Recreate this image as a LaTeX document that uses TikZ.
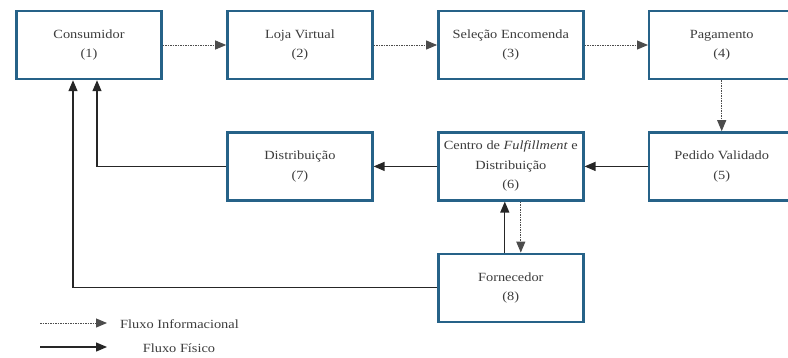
\documentclass[tikz,border=0pt]{standalone}
\usepackage{fontspec}
\setmainfont{Liberation Serif}[FakeStretch=1.15]
\usetikzlibrary{positioning,arrows.meta}
\definecolor{boxblue}{RGB}{38,98,136}
\definecolor{txtgray}{RGB}{60,60,60}
\tikzset{
  etapa/.style={draw=boxblue, line width=2.4pt, fill=white, minimum width=145pt,
    minimum height=68pt, align=center, text=txtgray, inner sep=2pt,
    font=\fontsize{12.5}{19.5}\selectfont},
  info/.style={-{Triangle[length=11pt,width=9pt]}, line width=1pt,
    dash pattern=on 1.5pt off 1pt, draw=black!70},
  fisico/.style={-{Triangle[length=11pt,width=9pt]}, line width=1.3pt, draw=black!85},
  legenda/.style={text=txtgray, inner sep=0pt, font=\fontsize{12.5}{15}\selectfont}
}
\begin{document}
\begin{tikzpicture}[x=1pt,y=1pt,node distance=51pt and 63.5pt]
\useasboundingbox (0,0) rectangle (788,-357);
\clip (0,0) rectangle (788,-357);
\node[etapa] (consumidor) at (89,-45) {Consumidor\\(1)};
\node[etapa] (loja) [right=of consumidor] {Loja Virtual\\(2)};
\node[etapa] (selecao) [right=of loja] {Seleção Encomenda\\(3)};
\node[etapa] (pagamento) [right=of selecao] {Pagamento\\(4)};
\node[etapa] (pedido) [below=of pagamento] {Pedido Validado\\(5)};
\node[etapa] (centro) [left=of pedido] {Centro de \textit{Fulfillment} e\\Distribuição\\(6)};
\node[etapa] (distrib) [left=of centro] {Distribuição\\(7)};
\node[etapa] (fornecedor) [below=of centro] {Fornecedor\\(8)};
% fluxo informacional
\draw[info] (consumidor) -- (loja);
\draw[info] (loja) -- (selecao);
\draw[info] (selecao) -- (pagamento);
\draw[info] (pagamento) -- (pedido);
\draw[info] ([xshift=10pt]centro.south) -- ([xshift=10pt]fornecedor.north);
% fluxo fisico
\draw[fisico] (pedido) -- (centro);
\draw[fisico] (centro) -- (distrib);
\draw[fisico] (distrib.west) -| ([xshift=8pt]consumidor.south);
\draw[fisico] (fornecedor.west) -| ([xshift=-16pt]consumidor.south);
\draw[fisico] ([xshift=-6pt]fornecedor.north) -- ([xshift=-6pt]centro.south);
% legenda
\coordinate (infoA) at (40,-323);
\coordinate (infoB) at (107,-323);
\coordinate (fisA) at (40,-347);
\coordinate (fisB) at (107,-347);
\draw[info] (infoA) -- (infoB);
\node[legenda, anchor=west] (leginfo) at (120,-324) {Fluxo Informacional};
\draw[fisico] (fisA) -- (fisB);
\node[legenda] (legfis) at (179,-348.5) {Fluxo Físico};
\end{tikzpicture}
\end{document}
